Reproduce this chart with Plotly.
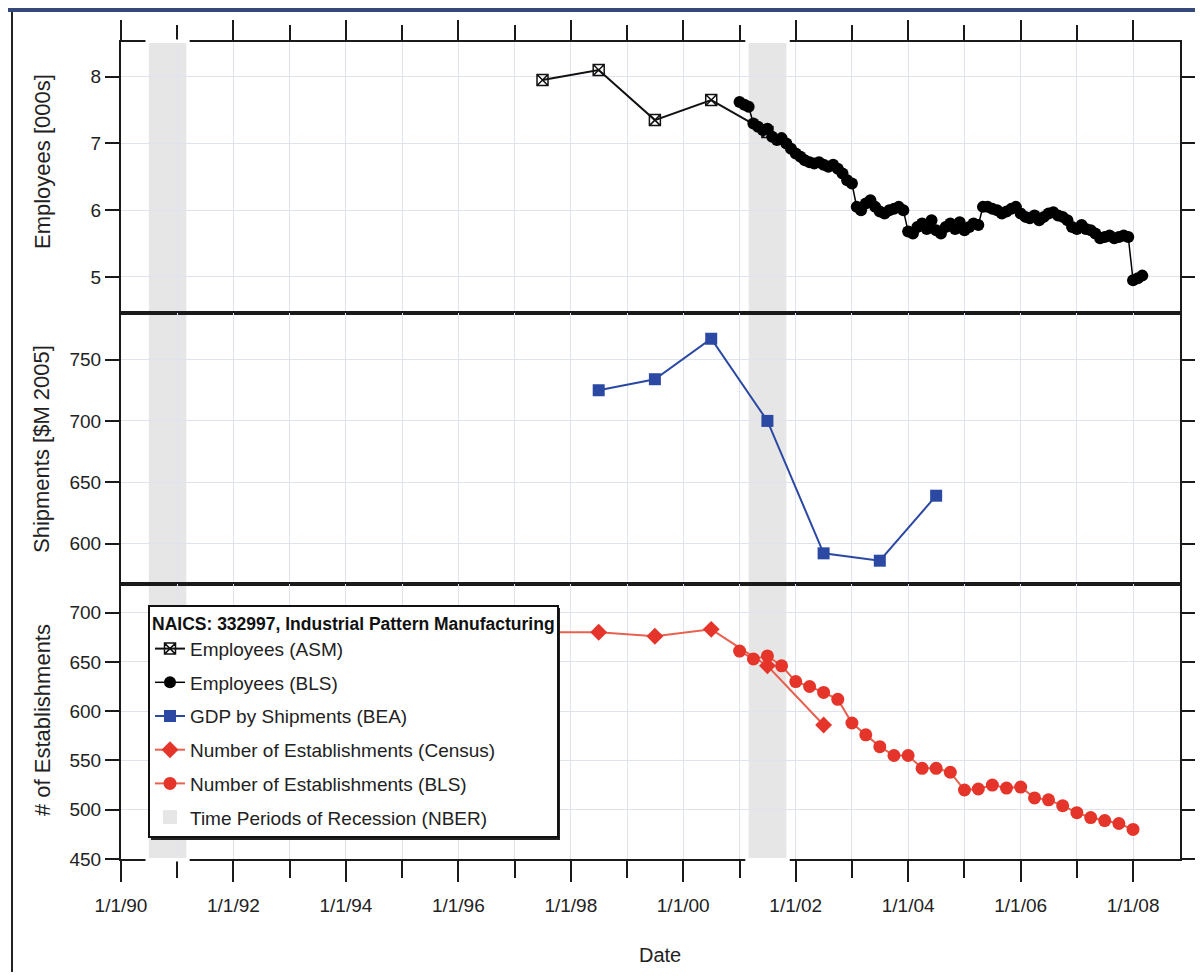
import plotly.graph_objects as go
import pandas as pd

# ---------------- data ----------------
asm_dates = ["1997-07-01", "1998-07-01", "1999-07-01", "2000-07-01", "2001-07-01"]
asm_emp = [7.95, 8.10, 7.35, 7.65, 7.17]

bls_emp = [
    7.62, 7.58, 7.55, 7.30, 7.25, 7.20, 7.22, 7.10, 7.05, 7.08, 7.00, 6.92,   # 2001
    6.85, 6.80, 6.75, 6.72, 6.70, 6.72, 6.68, 6.65, 6.68, 6.62, 6.55, 6.45,   # 2002
    6.40, 6.05, 6.00, 6.10, 6.15, 6.05, 5.98, 5.95, 6.00, 6.02, 6.05, 6.00,   # 2003
    5.68, 5.65, 5.75, 5.80, 5.72, 5.85, 5.70, 5.65, 5.75, 5.80, 5.72, 5.82,   # 2004
    5.70, 5.75, 5.80, 5.78, 6.05, 6.05, 6.02, 6.00, 5.95, 5.98, 6.02, 6.05,   # 2005
    5.95, 5.90, 5.88, 5.92, 5.85, 5.90, 5.95, 5.97, 5.92, 5.90, 5.85, 5.75,   # 2006
    5.72, 5.78, 5.72, 5.70, 5.65, 5.58, 5.60, 5.62, 5.58, 5.60, 5.62, 5.60,   # 2007
    4.95, 4.98, 5.02,                                                          # 2008
]
bls_emp_dates = pd.date_range("2001-01-01", periods=len(bls_emp), freq="MS")

gdp_dates = ["1998-07-01", "1999-07-01", "2000-07-01", "2001-07-01",
             "2002-07-01", "2003-07-01", "2004-07-01"]
gdp_ship = [725, 734, 767, 700, 592, 586, 639]

census_dates = ["1997-07-01", "1998-07-01", "1999-07-01", "2000-07-01",
                "2001-07-01", "2002-07-01"]
census_est = [680, 680, 676, 683, 646, 586]

bls_est = [661, 653, 656, 646,
           630, 625, 619, 612,
           588, 576, 564, 555,
           555, 542, 542, 538,
           520, 521, 525, 522,
           523, 512, 510, 504,
           497, 492, 489, 486,
           480]
bls_est_dates = pd.date_range("2001-01-01", periods=len(bls_est), freq="QS")

recessions = [("1990-07-01", "1991-03-01"), ("2001-03-01", "2001-11-01")]

tick_dates = ["1990-01-01", "1992-01-01", "1994-01-01", "1996-01-01", "1998-01-01",
              "2000-01-01", "2002-01-01", "2004-01-01", "2006-01-01", "2008-01-01"]
tick_text = ["1/1/90", "1/1/92", "1/1/94", "1/1/96", "1/1/98",
             "1/1/00", "1/1/02", "1/1/04", "1/1/06", "1/1/08"]

legend_title = "NAICS: 332997, Industrial Pattern Manufacturing"
ytitles = ["Employees [000s]", "Shipments [$M 2005]", "# of Establishments"]

# ---------------- layout geometry (screen px -> paper, page has 8px body margin) ----------------
OFF = 8
W, H = 1187, 964
def py(p):
    return 1 - (p - OFF) / H
def px(p):
    return (p - OFF) / W

FONT = "Liberation Sans, Arial, sans-serif"
RED = "#e5352b"
RED_LINE = "#e8604f"
BLUE = "#2b48a3"
GRID = "#dfe2ef"
REC = "#e6e6e6"
AX = "#1a1a1a"

fig = go.Figure()

fig.add_trace(go.Scatter(x=asm_dates, y=asm_emp, mode="lines+markers", name="Employees (ASM)",
                         xaxis="x", yaxis="y", legendgroup="a",
                         line=dict(color="#111", width=2),
                         marker=dict(symbol="square-x-open", size=11, color="#111", line=dict(width=1.5))))
fig.add_trace(go.Scatter(x=bls_emp_dates, y=bls_emp, mode="lines+markers", name="Employees (BLS)",
                         xaxis="x", yaxis="y", legendgroup="b",
                         line=dict(color="#000", width=1.5),
                         marker=dict(symbol="circle", size=12, color="#000")))
fig.add_trace(go.Scatter(x=gdp_dates, y=gdp_ship, mode="lines+markers", name="GDP by Shipments (BEA)",
                         xaxis="x2", yaxis="y2", legendgroup="c",
                         line=dict(color=BLUE, width=2),
                         marker=dict(symbol="square", size=12, color=BLUE)))
fig.add_trace(go.Scatter(x=census_dates, y=census_est, mode="lines+markers",
                         name="Number of Establishments (Census)",
                         xaxis="x3", yaxis="y3", legendgroup="d",
                         line=dict(color=RED_LINE, width=2),
                         marker=dict(symbol="diamond", size=13, color=RED)))
fig.add_trace(go.Scatter(x=bls_est_dates, y=bls_est, mode="lines+markers",
                         name="Number of Establishments (BLS)",
                         xaxis="x3", yaxis="y3", legendgroup="e",
                         line=dict(color=RED_LINE, width=2),
                         marker=dict(symbol="circle", size=13, color=RED)))
fig.add_trace(go.Scatter(x=[None], y=[None], mode="markers",
                         name="Time Periods of Recession (NBER)",
                         xaxis="x3", yaxis="y3", legendgroup="f",
                         marker=dict(symbol="square", size=14, color=REC)))

# ---------------- axes ----------------
xdom = [px(121), px(1180)]
xrange_ = ["1990-01-01", "2008-11-01"]
doms = [[py(313), py(42)], [py(584), py(313)], [py(859), py(584)]]

minor_grid = dict(tickmode="linear", tick0="1990-01-01", dtick="M12",
                  showgrid=True, gridcolor=GRID, gridwidth=1)
common_x = dict(domain=xdom, range=xrange_, type="date", showline=True, linewidth=2,
                linecolor=AX, mirror=True, showgrid=True, gridcolor=GRID, gridwidth=1,
                tickmode="array", tickvals=tick_dates, ticktext=tick_text,
                tickcolor=AX, tickwidth=2, zeroline=False)

fig.update_layout(
    xaxis=dict(common_x, anchor="y", side="top", ticks="outside", ticklen=20,
               showticklabels=False, matches="x3", automargin=True,
               minor=dict(minor_grid, ticks="outside", ticklen=15, tickwidth=2, tickcolor=AX)),
    xaxis2=dict(common_x, anchor="y2", ticks="", showticklabels=False, matches="x3",
                minor=minor_grid),
    xaxis3=dict(common_x, anchor="y3", side="bottom", ticks="outside", ticklen=21,
                showticklabels=True, ticklabelstandoff=7,
                tickfont=dict(family=FONT, size=19, color="#222"),
                minor=dict(minor_grid, ticks="outside", ticklen=17, tickwidth=2, tickcolor=AX)),
)

common_y = dict(showline=True, linewidth=2, linecolor=AX, mirror="ticks",
                ticks="outside", ticklen=14, tickwidth=2, tickcolor=AX,
                showgrid=True, gridcolor=GRID, gridwidth=1, zeroline=False,
                tickfont=dict(family=FONT, size=19, color="#222"))
fig.update_layout(
    yaxis=dict(common_y, domain=doms[0], range=[4.46, 8.52], dtick=1, tick0=0, anchor="x"),
    yaxis2=dict(common_y, domain=doms[1], range=[567, 788], dtick=50, tick0=0, anchor="x2"),
    yaxis3=dict(common_y, domain=doms[2], range=[450, 729], dtick=50, tick0=0, anchor="x3"),
)

shapes = []

# ---------------- recession shading ----------------
try:
    go.layout.Shape(layer="between")
    SH_LAYER = "between"
except Exception:
    SH_LAYER = "below"

for s, e in recessions:
    s_ts, e_ts = pd.Timestamp(s), pd.Timestamp(e)
    pad = pd.Timedelta(days=22)
    shapes.append(dict(type="rect", xref="x3", yref="paper", x0=s, x1=e, y0=py(859), y1=py(42),
                       fillcolor=REC, line=dict(width=0), layer=SH_LAYER))
    # break the outer axis lines where the shading crosses them
    for ya, yb in [(39.5, 45), (856, 861.5)]:
        shapes.append(dict(type="rect", xref="x3", yref="paper",
                           x0=(s_ts - pad).strftime("%Y-%m-%d"), x1=(e_ts + pad).strftime("%Y-%m-%d"),
                           y0=py(yb), y1=py(ya), fillcolor="white", layer="above", line=dict(width=0)))
    shapes.append(dict(type="rect", xref="x3", yref="paper", x0=s, x1=e,
                       y0=py(47), y1=py(43), fillcolor=REC, layer="above", line=dict(width=0)))
    shapes.append(dict(type="rect", xref="x3", yref="paper", x0=s, x1=e,
                       y0=py(858), y1=py(854), fillcolor=REC, layer="above", line=dict(width=0)))

# legend drop shadow (sits under the legend box)
shapes.append(dict(type="rect", xref="paper", yref="paper", x0=px(151), x1=px(560),
                   y0=py(840), y1=py(608), fillcolor="#222", line=dict(width=0), layer="above"))

# outer frame decorations
shapes.append(dict(type="rect", xref="paper", yref="paper", x0=px(0), x1=px(1203), y0=py(12), y1=py(8),
                   fillcolor="#34497a", line=dict(width=0), layer="above"))
shapes.append(dict(type="line", xref="paper", yref="paper", x0=px(12), x1=px(12),
                   y0=py(980), y1=py(12), line=dict(color="#222", width=2), layer="above"))

annotations = []
ycenters = [162, 449, 720]
for t, yc in zip(ytitles, ycenters):
    annotations.append(dict(text=t, x=px(42), y=py(yc), xref="paper", yref="paper",
                            textangle=-90, showarrow=False, xanchor="center", yanchor="middle",
                            font=dict(family=FONT, size=22, color="#222")))
annotations.append(dict(text="Date", x=px(660), y=py(955), xref="paper", yref="paper",
                        showarrow=False, xanchor="center", yanchor="middle",
                        font=dict(family=FONT, size=20, color="#222")))

fig.update_layout(
    width=W, height=H, autosize=False,
    margin=dict(l=0, r=0, t=0, b=0, pad=0, autoexpand=False),
    paper_bgcolor="white", plot_bgcolor="white",
    shapes=shapes, annotations=annotations,
    showlegend=True,
    legend=dict(x=px(148), y=py(605), xanchor="left", yanchor="top",
                bgcolor="white", bordercolor="#111", borderwidth=2,
                font=dict(family=FONT, size=19, color="#222"),
                title=dict(text="<b>" + legend_title + "</b>",
                           font=dict(family=FONT, size=17.5, color="#111")),
                tracegroupgap=6, itemwidth=30, traceorder="grouped"),
    font=dict(family=FONT),
)

fig.write_html("out.html")
